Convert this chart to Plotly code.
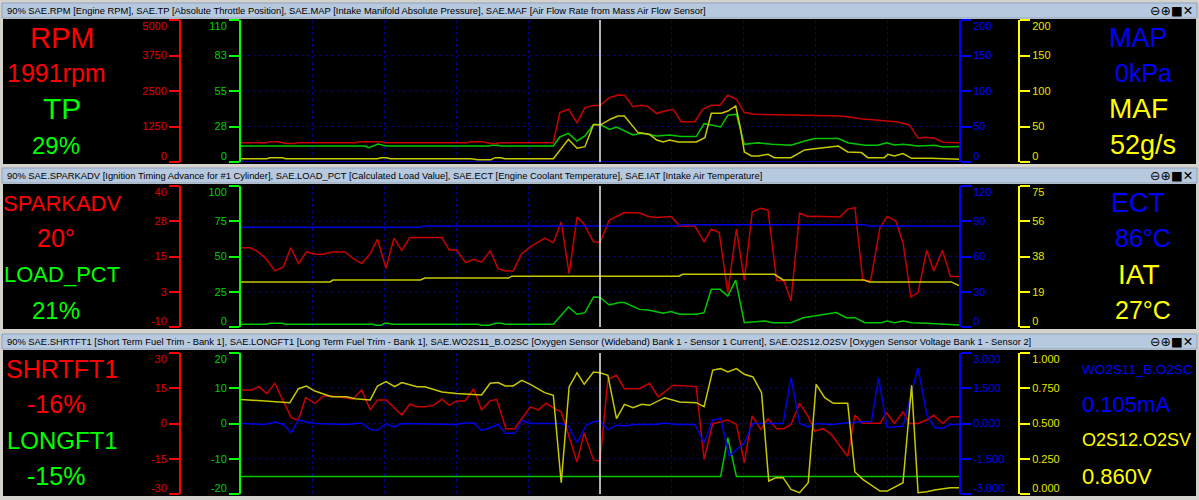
import plotly.graph_objects as go

W, H = 1199, 500

# ---------------- data (t runs 0..100 across the window, cursor at t=50) ----------------
# panel 1
rpm_t = [0, 3.6, 4.0, 5.2, 5.8, 6.2, 7.5, 7.9, 16.0, 16.5, 19.5, 20.0, 31.5, 32.0, 33.6, 34.2,
         34.8, 35.6, 36.0, 43.5, 44.4, 45.6, 46.8, 47.9, 49.1, 50.0, 51.3, 52.5, 53.4, 54.6,
         55.8, 56.7, 57.9, 59.0, 60.2, 61.3, 63.2, 64.3, 65.5, 66.7, 67.8, 69.0, 70.1, 71.5,
         77.6, 83.6, 86.4, 88.3, 91.5, 93.1, 94.3, 95.4, 96.6, 97.8, 100]
rpm = [680, 680, 715, 715, 680, 650, 650, 680, 680, 715, 715, 680, 680, 715, 715, 680,
       650, 650, 680, 680, 1740, 1860, 1385, 1915, 1990, 1991, 2265, 2360, 2350, 1950,
       2000, 1950, 1705, 1795, 1855, 1420, 1420, 1855, 1995, 2000, 2350, 2210, 1740, 1680,
       1645, 1620, 1525, 1490, 1410, 1305, 835, 870, 835, 695, 680]

tp_t = [0, 3.6, 4.0, 5.8, 6.2, 17.2, 17.8, 18.5, 19.1, 19.8, 20.3, 34.5, 35.0, 35.8, 36.2,
        43.5, 44.4, 45.6, 46.8, 47.9, 49.1, 50.0, 51.35, 52.3, 54.6, 55.8, 57.9, 59.7, 61.3,
        63.4, 64.5, 65.5, 66.8, 67.8, 69.0, 70.1, 72.0, 73.9, 76.6, 78.5, 79.9, 83.2, 84.5,
        86.9, 88.7, 89.9, 91.0, 92.2, 94.3, 96.6, 97.8, 100]
tp = [12.4, 12.4, 12.9, 12.9, 12.4, 12.4, 11.1, 12.4, 14.0, 13.0, 12.4, 12.4, 12.9, 12.9, 12.4,
      12.4, 19.4, 22.2, 16.3, 20.2, 29.0, 29.0, 25.3, 27.1, 20.9, 22.2, 20.2, 20.9, 19.7,
      19.7, 29.7, 28.7, 27.1, 36.2, 37.0, 13.7, 14.9, 13.7, 13.0, 16.3, 18.2, 18.2, 14.9,
      13.0, 13.0, 14.9, 13.2, 13.7, 12.4, 13.0, 11.7, 12.0]

map_t = [0, 100]
map_kpa = [0, 0]

maf_t = [0, 3.6, 4.0, 5.8, 6.2, 19.0, 19.5, 20.3, 20.8, 32.0, 33.0, 34.8, 35.4, 36.2, 36.7,
         43.5, 45.6, 46.8, 47.9, 49.1, 50.0, 51.6, 52.5, 53.4, 55.3, 56.9, 57.9, 58.8, 59.7,
         60.9, 63.4, 64.6, 65.5, 66.9, 67.8, 68.9, 69.5, 70.1, 71.1, 72.0, 73.4, 74.3, 76.6,
         78.5, 79.9, 81.3, 83.2, 84.5, 86.4, 87.3, 89.6, 90.1, 91.0, 92.2, 93.4, 96.1, 100]
maf = [4.7, 4.7, 6.1, 6.1, 4.7, 4.7, 6.1, 6.1, 4.7, 4.7, 3.3, 3.3, 6.1, 6.1, 4.7,
       4.7, 32.0, 19.3, 21.6, 52.7, 52.0, 61.0, 64.8, 64.8, 41.4, 39.0, 31.0, 28.2, 31.0,
       28.2, 28.2, 34.3, 68.6, 68.6, 71.8, 79.0, 50.8, 14.2, 8.6, 8.6, 10.8, 6.1, 6.1,
       17.0, 18.8, 20.2, 22.5, 14.2, 13.3, 6.1, 6.1, 10.8, 8.6, 11.9, 5.2, 5.2, 3.8]

# panel 2
spark_t = [0, 1.25, 2.18, 3.34, 4.74, 5.9, 6.92, 8.0, 9.15, 10.3, 11.5, 12.6, 14.5, 15.6, 16.8,
           18.0, 19.0, 20.2, 21.3, 22.4, 23.5, 28.0, 29.0, 30.0, 31.3, 32.4, 33.5, 34.7, 35.8,
           36.8, 37.9, 39.1, 40.3, 42.3, 43.5, 44.6, 45.7, 46.8, 47.7, 49.1, 50.0, 51.3, 53.4,
           55.5, 56.7, 57.8, 59.9, 61.1, 63.2, 64.5, 65.5, 66.6, 67.8, 69.0, 70.1, 71.2, 72.4,
           73.4, 74.6, 75.6, 76.6, 77.8, 78.9, 79.9, 83.4, 84.5, 85.5, 86.6, 87.7, 89.0, 90.0,
           91.2, 92.2, 93.3, 94.3, 95.5, 96.5, 97.7, 98.8, 100]
spark = [18.1, 18.1, 17.0, 14.6, 9.9, 11.3, 18.1, 12.5, 16.7, 15.8, 15.8, 16.6, 16.6, 14.3, 12.5,
         16.0, 21.1, 10.8, 21.5, 17.2, 21.7, 21.7, 17.3, 17.3, 12.8, 14.0, 13.0, 17.0, 10.7,
         9.9, 9.9, 16.0, 18.4, 21.5, 19.9, 27.2, 8.9, 29.0, 26.7, 20.2, 20.0, 27.9, 30.6,
         30.4, 29.2, 28.8, 29.2, 25.8, 25.8, 20.2, 24.7, 23.5, 2.2, 24.7, 6.5, 30.8, 32.1,
         31.4, 6.5, 6.5, -0.75, 30.4, 29.2, 29.3, 29.0, 31.8, 32.3, 6.5, 6.5, 25.3, 29.2,
         27.6, 19.9, 0.6, 2.2, 17.2, 9.9, 17.2, 7.9, 7.9]

load_t = [0, 3.6, 4.0, 5.8, 6.2, 18.3, 18.8, 19.5, 20.0, 20.5, 21.0, 33.0, 33.5, 34.5, 35.0,
          35.5, 36.3, 36.8, 43.5, 45.6, 46.8, 47.9, 49.1, 50.0, 51.3, 52.7, 53.4, 55.5, 56.7,
          58.8, 59.9, 61.1, 63.4, 64.5, 65.5, 66.7, 67.8, 68.9, 70.1, 71.3, 72.9, 74.1, 76.6,
          78.3, 79.9, 82.9, 84.3, 85.5, 86.9, 89.2, 90.0, 91.0, 92.2, 93.4, 96.1, 100]
load = [1.9, 1.9, 2.6, 2.6, 1.9, 1.9, 1.2, 1.2, 2.6, 2.6, 1.9, 1.9, 1.2, 1.2, 1.9,
        2.6, 2.6, 1.9, 1.9, 14.2, 9.0, 10.2, 21.3, 21.0, 15.6, 17.3, 17.3, 12.5, 12.1,
        9.7, 10.9, 9.0, 9.0, 10.2, 26.7, 26.7, 22.0, 33.3, 3.1, 3.8, 4.3, 3.1, 3.1,
        6.6, 7.8, 10.2, 6.6, 6.6, 3.1, 3.1, 4.3, 3.1, 4.3, 3.1, 2.4, 1.4]

ect_t = [0, 25.0, 25.4, 60.8, 61.2, 86.8, 87.3, 100]
ect = [85, 85, 86, 86, 87, 87, 86, 86]

iat_t = [0, 12.4, 12.8, 25.0, 25.6, 37.3, 37.7, 61.0, 61.5, 74.3, 75.5, 86.8, 87.5, 98.9, 100]
iat = [24, 24, 25, 25, 26, 26, 27, 27, 28, 28, 25, 25, 24, 24, 22]

# panel 3
stft_t = [0, 1.5, 2.5, 3.6, 4.7, 5.9, 7.0, 8.0, 9.0, 10.3, 11.5, 12.6, 13.6, 14.5, 15.6, 16.8,
          18.0, 19.0, 20.2, 21.2, 22.4, 23.5, 24.5, 25.6, 26.8, 28.0, 29.0, 30.0, 31.2, 32.4,
          33.5, 34.7, 35.6, 36.9, 38.1, 39.1, 40.3, 41.4, 42.5, 43.6, 44.6, 46.8, 47.8, 49.1,
          50.0, 51.1, 52.3, 53.4, 55.5, 56.9, 58.1, 60.2, 63.4, 64.5, 65.7, 67.8, 69.0, 70.1,
          71.2, 72.4, 73.4, 74.6, 75.6, 76.6, 77.8, 79.0, 79.9, 81.1, 82.2, 83.4, 84.5, 85.5,
          86.6, 89.0, 89.9, 91.0, 92.2, 93.1, 94.3, 95.5, 96.5, 97.7, 98.8, 100]
stft = [14.3, 14.3, 15.7, 12.7, 17.1, 9.6, 2.5, 1.5, 11.0, 8.6, 11.7, 11.7, 11.4, 11.0, 10.3, 14.3,
        5.8, 10.0, 10.0, 7.1, 3.6, 8.2, 7.1, 7.1, 7.7, 10.3, 7.7, 9.6, 9.6, 14.8,
        5.8, 9.6, 10.3, -2.2, -2.2, 2.0, 7.1, 5.8, 8.6, 6.4, 5.0, -16.4, -4.0, -15.5,
        -16.0, 18.8, 20.5, 14.8, 14.8, 17.1, 11.3, 16.3, 15.7, -15.2, -0.1, 1.5, -0.4, -16.7,
        3.2, -2.5, 2.0, -2.2, -2.2, -0.4, 8.6, 2.9, -3.2, -2.2, -4.6, -9.6, -13.9, 3.5,
        0.1, 0.1, 4.6, 0.0, 4.9, 0.0, 0.0, 1.5, 3.5, 0.0, 2.9, 2.9]

ltft_t = [0, 66.8, 67.8, 69.0, 100]
ltft = [-15, -15, -4, -15, -15]

wo2_t = [0, 3.3, 4.7, 5.9, 7.0, 8.0, 9.15, 10.3, 14.5, 16.8, 18.0, 19.0, 20.2, 21.3, 22.4,
         29.8, 31.2, 32.4, 33.5, 34.7, 35.8, 36.8, 38.1, 39.2, 40.3, 44.6, 45.6, 46.8, 48.1,
         49.1, 50.0, 51.1, 52.3, 53.4, 54.8, 57.6, 59.0, 60.6, 63.2, 64.5, 65.7, 66.8, 68.0,
         70.1, 71.3, 75.5, 76.6, 77.8, 79.0, 80.1, 82.2, 85.5, 87.8, 88.8, 90.0, 91.3, 92.2,
         94.3, 95.5, 96.6, 97.7, 98.8, 100]
wo2 = [0.0, -0.04, 0.06, -0.04, -0.39, 0.15, 0.06, 0.0, -0.04, 0.02, -0.25, -0.29, 0.0, -0.15, 0.0,
       -0.04, 0.02, 0.02, -0.29, -0.18, -0.04, -0.42, -0.42, 0.13, 0.0, 0.0, -0.11, -0.82, -0.07,
       0.08, 0.105, -0.27, -0.07, -0.11, -0.04, -0.04, 0.02, -0.04, -0.04, -0.82, 0.15, 0.22, -1.39,
       -0.82, 0.0, 0.0, 1.95, 0.0, -0.15, 0.0, -0.04, 0.06, 0.08, 1.95, -0.18, -0.14, -0.11,
       2.38, 0.39, -0.18, -0.21, -0.04, -0.04]

o2v_t = [0, 3.8, 6.8, 8.0, 9.1, 10.3, 11.5, 12.6, 14.7, 15.9, 18.0, 19.0, 20.2, 21.4, 22.4,
         24.5, 25.6, 28.0, 30.0, 33.5, 34.7, 35.8, 36.8, 37.9, 39.1, 40.3, 42.3, 43.5, 44.6,
         45.7, 46.8, 47.8, 49.1, 50.0, 51.1, 52.3, 53.4, 54.6, 55.8, 56.9, 59.0, 61.1, 63.4,
         64.5, 65.7, 66.8, 67.8, 69.0, 70.1, 71.3, 72.5, 73.5, 74.5, 75.5, 76.6, 77.8, 79.0,
         80.1, 81.3, 82.5, 84.5, 85.5, 86.6, 89.0, 90.0, 92.2, 93.4, 94.3, 95.5, 96.6, 98.8, 100]
o2v = [0.671, 0.660, 0.648, 0.747, 0.766, 0.730, 0.707, 0.690, 0.690, 0.676, 0.667, 0.766, 0.797, 0.761, 0.790,
       0.761, 0.761, 0.723, 0.712, 0.702, 0.785, 0.790, 0.766, 0.766, 0.806, 0.778, 0.719, 0.700, 0.080,
       0.759, 0.860, 0.778, 0.865, 0.860, 0.842, 0.534, 0.636, 0.612, 0.636, 0.629, 0.683, 0.652, 0.648,
       0.619, 0.879, 0.889, 0.865, 0.889, 0.849, 0.830, 0.719, 0.092, 0.116, 0.116, 0.033, 0.009, 0.080,
       0.778, 0.683, 0.643, 0.643, 0.156, 0.104, 0.021, 0.021, 0.080, 0.771, 0.009, 0.016, 0.028, 0.045, 0.045]

titles = [
    "90% SAE.RPM [Engine RPM], SAE.TP [Absolute Throttle Position], SAE.MAP [Intake Manifold "
    "Absolute Pressure], SAE.MAF [Air Flow Rate from Mass Air Flow Sensor]",
    "90% SAE.SPARKADV [Ignition Timing Advance for #1 Cylinder], SAE.LOAD_PCT [Calculated Load "
    "Value], SAE.ECT [Engine Coolant Temperature], SAE.IAT [Intake Air Temperature]",
    "90% SAE.SHRTFT1 [Short Term Fuel Trim - Bank 1], SAE.LONGFT1 [Long Term Fuel Trim - Bank 1], "
    "SAE.WO2S11_B.O2SC [Oxygen Sensor (Wideband) Bank 1 - Sensor 1 Current], SAE.O2S12.O2SV "
    "[Oxygen Sensor Voltage Bank 1 - Sensor 2]",
]

# channel: (t, values, low, high, tick labels)
channels = [
    dict(red=(rpm_t, rpm, 0, 5000, ["0", "1250", "2500", "3750", "5000"]),
         green=(tp_t, tp, 0, 110, ["0", "28", "55", "83", "110"]),
         blue=(map_t, map_kpa, 0, 200, ["0", "50", "100", "150", "200"]),
         yellow=(maf_t, maf, 0, 200, ["0", "50", "100", "150", "200"])),
    dict(red=(spark_t, spark, -10, 40, ["-10", "3", "15", "28", "40"]),
         green=(load_t, load, 0, 100, ["0", "25", "50", "75", "100"]),
         blue=(ect_t, ect, 0, 120, ["0", "30", "60", "90", "120"]),
         yellow=(iat_t, iat, 0, 75, ["0", "19", "38", "56", "75"])),
    dict(red=(stft_t, stft, -30, 30, ["-30", "-15", "0", "15", "30"]),
         green=(ltft_t, ltft, -20, 20, ["-20", "-10", "0", "10", "20"]),
         blue=(wo2_t, wo2, -3, 3, ["-3.000", "-1.500", "0.000", "1.500", "3.000"]),
         yellow=(o2v_t, o2v, 0, 1, ["0.000", "0.250", "0.500", "0.750", "1.000"])),
]

# readouts at the cursor: (text, font size, colour)
left_text = [
    [("RPM", 29, "red"), ("1991rpm", 25, "red"), ("TP", 30, "green"), ("29%", 24, "green")],
    [("SPARKADV", 22, "red"), ("20°", 25, "red"), ("LOAD_PCT", 22, "green"), ("21%", 24, "green")],
    [("SHRTFT1", 25, "red"), ("-16%", 25, "red"), ("LONGFT1", 24, "green"), ("-15%", 25, "green")],
]
right_text = [
    [("MAP", 27, "blue"), ("0kPa", 25, "blue"), ("MAF", 28, "yellow"), ("52g/s", 27, "yellow")],
    [("ECT", 27, "blue"), ("86°C", 25, "blue"), ("IAT", 28, "yellow"), ("27°C", 25, "yellow")],
    [("WO2S11_B.O2SC", 13.5, "blue"), ("0.105mA", 22, "blue"), ("O2S12.O2SV", 18, "yellow"), ("0.860V", 22, "yellow")],
]

# ---------------- style ----------------
AXIS = {"red": "#ff0000", "green": "#00ff00", "blue": "#0000ff", "yellow": "#ffff00"}
LABEL = {"red": "#e00000", "green": "#00d000", "blue": "#0000ff", "yellow": "#e6e600"}
TRACE = {"red": "#c80000", "green": "#00c800", "blue": "#0000e6", "yellow": "#c8c800"}
TEXT = {"red": "#ff0000", "green": "#00ff00", "blue": "#0000ff", "yellow": "#ffff00"}
FONT = "Liberation Sans, Arial, sans-serif"
GRID = "#000088"

PLOT_X = (241, 959)
RED_X, YELLOW_X = 180, 1019
PLOT_ROWS = [(20, 162), (186, 327), (353, 494)]
PANEL_ROWS = [(19, 164), (184, 329), (350, 496)]
TITLE_ROWS = [(3, 18), (168, 183), (334, 349)]
ROW_OFFSETS = [19, 54, 90, 126]


def fx(px):
    return px / W


def fy(py):
    return 1 - py / H


def y_axis(color, lo, hi, labels, **kw):
    # labels at the ends sit just inside the axis, tick marks stay at the true values
    step = (hi - lo) / 4
    marks = [lo + k * step for k in range(5)]
    pad = (hi - lo) * 6 / 142
    label_at = [lo + pad] + marks[1:4] + [hi - pad]
    tick_at = [lo] + [m + step * 1e-6 for m in marks[1:4]] + [hi]
    return dict(range=[lo, hi], showgrid=False, zeroline=False, showline=True,
                linecolor=AXIS[color], linewidth=2,
                tickmode="array", tickvals=label_at, ticktext=labels,
                ticks="outside", ticklen=10, tickcolor="rgba(0,0,0,0)",
                tickfont=dict(color=LABEL[color], size=11, family=FONT),
                minor=dict(tickmode="array", tickvals=tick_at, ticks="outside", ticklen=10,
                           tickwidth=2, tickcolor=AXIS[color], showgrid=False),
                fixedrange=True, automargin=False, **kw)


fig = go.Figure()
layout = {}
shapes = []
annotations = []

for i, ch in enumerate(channels):
    top, bottom = PLOT_ROWS[i]
    dom = [fy(bottom), fy(top)]
    xid = "x" if i == 0 else f"x{i + 1}"
    base = 4 * i + 1
    ids = {"green": base, "red": base + 1, "blue": base + 2, "yellow": base + 3}
    yname = {c: ("y" if n == 1 else f"y{n}") for c, n in ids.items()}
    green_ref = yname["green"]

    layout["xaxis" if i == 0 else f"xaxis{i + 1}"] = dict(
        domain=[fx(PLOT_X[0]), fx(PLOT_X[1])], range=[0, 100], anchor=green_ref,
        showgrid=True, dtick=10, tick0=0, gridcolor=GRID, griddash="dot", gridwidth=1,
        showticklabels=False, ticks="", showline=False, zeroline=False,
        fixedrange=True, automargin=False)

    for c in ["green", "red", "blue", "yellow"]:
        t, v, lo, hi, labels = ch[c]
        key = "yaxis" if ids[c] == 1 else f"yaxis{ids[c]}"
        if c == "green":
            layout[key] = y_axis(c, lo, hi, labels, domain=dom, anchor=xid, side="left")
        elif c == "red":
            layout[key] = y_axis(c, lo, hi, labels, overlaying=green_ref, anchor="free",
                                 position=fx(RED_X), side="left")
        elif c == "blue":
            layout[key] = y_axis(c, lo, hi, labels, overlaying=green_ref, anchor=xid, side="right")
        else:
            layout[key] = y_axis(c, lo, hi, labels, overlaying=green_ref, anchor="free",
                                 position=fx(YELLOW_X), side="right")

    for c in ["blue", "green", "yellow", "red"]:
        t, v = ch[c][0], ch[c][1]
        fig.add_trace(go.Scatter(x=t, y=v, xaxis=xid, yaxis=yname[c], mode="lines",
                                 line=dict(color=TRACE[c], width=1.5),
                                 hoverinfo="skip", showlegend=False))

    # panel background and title bar
    p0, p1 = PANEL_ROWS[i]
    shapes.append(dict(type="rect", xref="paper", yref="paper", x0=fx(3), x1=fx(1196),
                       y0=fy(p1), y1=fy(p0), fillcolor="black", line=dict(width=0), layer="below"))
    b0, b1 = TITLE_ROWS[i]
    shapes.append(dict(type="rect", xref="paper", yref="paper", x0=fx(2), x1=fx(1197),
                       y0=fy(b1), y1=fy(b0), fillcolor="#b7c9df",
                       line=dict(color="#8ea3bd", width=1), layer="below"))
    annotations.append(dict(xref="paper", yref="paper", x=fx(5), y=fy((b0 + b1) / 2),
                            xanchor="left", yanchor="middle", showarrow=False, text=titles[i],
                            font=dict(family=FONT, size=9.4, color="black")))
    annotations.append(dict(xref="paper", yref="paper", x=fx(1195), y=fy((b0 + b1) / 2),
                            xanchor="right", yanchor="middle", showarrow=False, text="⊖⊕■✕",
                            font=dict(family="DejaVu Sans", size=12.5, color="black")))

    # horizontal dotted grid
    for frac in (0.25, 0.5, 0.75):
        shapes.append(dict(type="line", xref=f"{xid} domain", yref=f"{green_ref} domain",
                           x0=0, x1=1, y0=frac, y1=frac, layer="below",
                           line=dict(color=GRID, width=1, dash="dot")))
    # cursor
    shapes.append(dict(type="line", xref=xid, yref=f"{green_ref} domain", x0=50, x1=50,
                       y0=0, y1=1, layer="above", line=dict(color="#f0f0e0", width=1.5)))

    # readouts
    for k, (txt, size, c) in enumerate(left_text[i]):
        annotations.append(dict(xref="paper", yref="paper", x=fx(62 if k % 2 == 0 else 56),
                                y=fy(p0 + ROW_OFFSETS[k]), xanchor="center", yanchor="middle",
                                showarrow=False, text=txt,
                                font=dict(family=FONT, size=size, color=TEXT[c])))
    for k, (txt, size, c) in enumerate(right_text[i]):
        if i == 2:
            pos = dict(x=fx(1080), xanchor="left")
        else:
            pos = dict(x=fx(1138 if k % 2 == 0 else 1143), xanchor="center")
        annotations.append(dict(xref="paper", yref="paper", y=fy(p0 + ROW_OFFSETS[k]),
                                yanchor="middle", showarrow=False, text=txt,
                                font=dict(family=FONT, size=size, color=TEXT[c]), **pos))

fig.update_layout(**layout)
fig.update_layout(
    template="none",
    width=W, height=H,
    margin=dict(l=0, r=0, t=0, b=0),
    paper_bgcolor="#d4d2cc",
    plot_bgcolor="black",
    showlegend=False,
    shapes=shapes,
    annotations=annotations,
    hovermode=False,
)

fig.write_html("out.html", config={"displayModeBar": False},
               post_script="document.body.style.margin='0px';")
